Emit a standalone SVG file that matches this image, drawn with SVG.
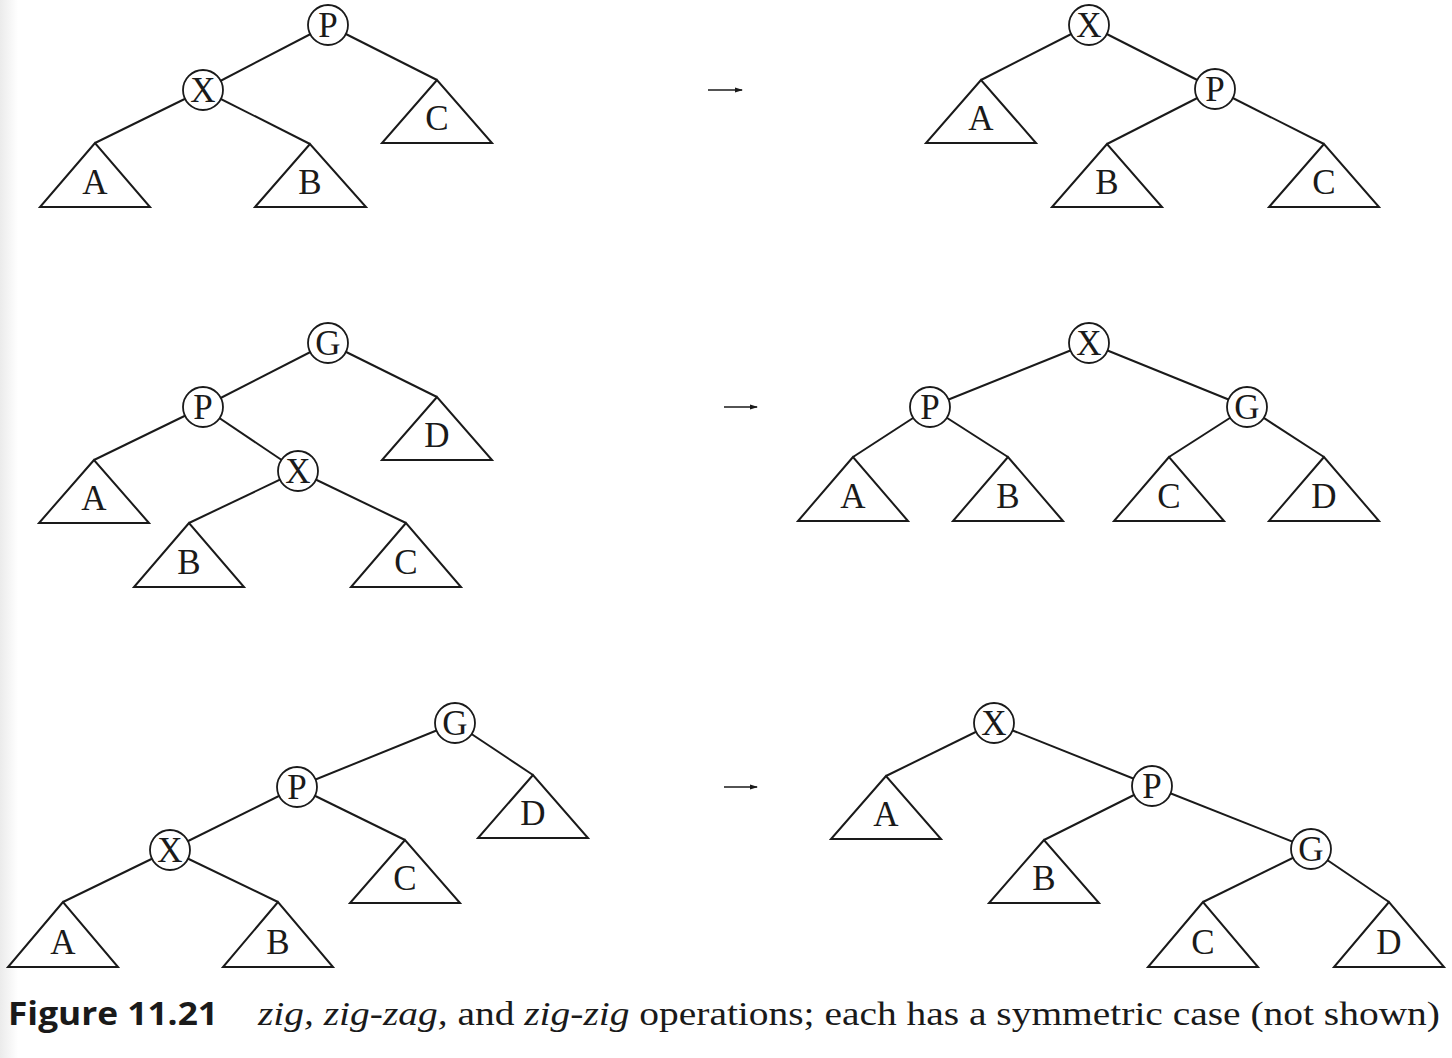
<svg xmlns="http://www.w3.org/2000/svg" width="1452" height="1058" viewBox="0 0 1452 1058">
<style>
.e{stroke:#1a1a1a;stroke-width:2;fill:none}
.n{stroke:#1a1a1a;stroke-width:1.8;fill:#fff}
.t{stroke:#1a1a1a;stroke-width:2;fill:#fff;stroke-linejoin:miter}
.l{font-family:"Liberation Serif","Times New Roman",serif;font-size:35px;fill:#1a1a1a;text-anchor:middle}
.a{stroke:#1a1a1a;stroke-width:1.6;fill:none}
.cb{font-family:"Open Sans","Liberation Sans",sans-serif;font-weight:bold;font-size:32px;fill:#1a1a1a}
.cs{font-family:"Liberation Serif","Times New Roman",serif;font-size:34px;fill:#1a1a1a}
</style>
<defs>
<linearGradient id="edge" x1="0" y1="0" x2="1" y2="0">
<stop offset="0" stop-color="#ebebeb"/>
<stop offset="1" stop-color="#ffffff"/>
</linearGradient>
<marker id="ah" markerWidth="8" markerHeight="6" refX="7" refY="3" orient="auto" markerUnits="userSpaceOnUse">
<polygon points="0,0.5 8,3 0,5.5" fill="#1a1a1a"/>
</marker>
</defs>
<rect width="1452" height="1058" fill="#fff"/>
<rect x="0" y="0" width="18" height="1058" fill="url(#edge)"/>

<g id="connectors">
<!-- tree 1 left -->
<line class="e" x1="328" y1="25" x2="203" y2="90"/>
<line class="e" x1="328" y1="25" x2="437" y2="80"/>
<line class="e" x1="203" y1="90" x2="95" y2="143"/>
<line class="e" x1="203" y1="90" x2="310" y2="144"/>
<!-- tree 1 right -->
<line class="e" x1="1089" y1="25" x2="981" y2="80"/>
<line class="e" x1="1089" y1="25" x2="1215" y2="89"/>
<line class="e" x1="1215" y1="89" x2="1107" y2="144"/>
<line class="e" x1="1215" y1="89" x2="1324" y2="144"/>
<!-- tree 2 left -->
<line class="e" x1="328" y1="343" x2="203" y2="407"/>
<line class="e" x1="328" y1="343" x2="437" y2="397"/>
<line class="e" x1="203" y1="407" x2="94" y2="460"/>
<line class="e" x1="203" y1="407" x2="298" y2="471"/>
<line class="e" x1="298" y1="471" x2="189" y2="523"/>
<line class="e" x1="298" y1="471" x2="406" y2="523"/>
<!-- tree 2 right -->
<line class="e" x1="1089" y1="343" x2="930" y2="407"/>
<line class="e" x1="1089" y1="343" x2="1247" y2="407"/>
<line class="e" x1="930" y1="407" x2="853" y2="457"/>
<line class="e" x1="930" y1="407" x2="1008" y2="457"/>
<line class="e" x1="1247" y1="407" x2="1169" y2="457"/>
<line class="e" x1="1247" y1="407" x2="1324" y2="457"/>
<!-- tree 3 left -->
<line class="e" x1="455" y1="723" x2="297" y2="787"/>
<line class="e" x1="455" y1="723" x2="533" y2="775"/>
<line class="e" x1="297" y1="787" x2="170" y2="850"/>
<line class="e" x1="297" y1="787" x2="405" y2="840"/>
<line class="e" x1="170" y1="850" x2="63" y2="902"/>
<line class="e" x1="170" y1="850" x2="278" y2="902"/>
<!-- tree 3 right -->
<line class="e" x1="994" y1="723" x2="886" y2="776"/>
<line class="e" x1="994" y1="723" x2="1152" y2="786"/>
<line class="e" x1="1152" y1="786" x2="1044" y2="840"/>
<line class="e" x1="1152" y1="786" x2="1311" y2="849"/>
<line class="e" x1="1311" y1="849" x2="1203" y2="902"/>
<line class="e" x1="1311" y1="849" x2="1389" y2="902"/>
<!-- arrows -->
<line class="a" x1="708" y1="90" x2="742" y2="90" marker-end="url(#ah)"/>
<line class="a" x1="724" y1="407" x2="757" y2="407" marker-end="url(#ah)"/>
<line class="a" x1="724" y1="787" x2="757" y2="787" marker-end="url(#ah)"/>
</g>

<!-- Row 1 left -->
<g id="r1l-P"><circle class="n" cx="328" cy="25" r="20"/><text class="l" x="328" y="37">P</text></g>
<g id="r1l-X"><circle class="n" cx="203" cy="90" r="20"/><text class="l" x="203" y="102">X</text></g>
<g id="r1l-A"><polygon class="t" points="95,143 40,207 150,207"/><text class="l" x="95" y="194">A</text></g>
<g id="r1l-B"><polygon class="t" points="310,144 255,207 366,207"/><text class="l" x="310" y="194">B</text></g>
<g id="r1l-C"><polygon class="t" points="437,80 382,143 492,143"/><text class="l" x="437" y="130">C</text></g>

<!-- Row 1 right -->
<g id="r1r-X"><circle class="n" cx="1089" cy="25" r="20"/><text class="l" x="1089" y="37">X</text></g>
<g id="r1r-P"><circle class="n" cx="1215" cy="89" r="20"/><text class="l" x="1215" y="101">P</text></g>
<g id="r1r-A"><polygon class="t" points="981,80 926,143 1036,143"/><text class="l" x="981" y="130">A</text></g>
<g id="r1r-B"><polygon class="t" points="1107,144 1052,207 1162,207"/><text class="l" x="1107" y="194">B</text></g>
<g id="r1r-C"><polygon class="t" points="1324,144 1269,207 1379,207"/><text class="l" x="1324" y="194">C</text></g>

<!-- Row 2 left -->
<g id="r2l-G"><circle class="n" cx="328" cy="343" r="20"/><text class="l" x="328" y="355">G</text></g>
<g id="r2l-P"><circle class="n" cx="203" cy="407" r="20"/><text class="l" x="203" y="419">P</text></g>
<g id="r2l-X"><circle class="n" cx="298" cy="471" r="20"/><text class="l" x="298" y="483">X</text></g>
<g id="r2l-D"><polygon class="t" points="437,397 382,460 492,460"/><text class="l" x="437" y="447">D</text></g>
<g id="r2l-A"><polygon class="t" points="94,460 39,523 149,523"/><text class="l" x="94" y="510">A</text></g>
<g id="r2l-B"><polygon class="t" points="189,523 134,587 244,587"/><text class="l" x="189" y="574">B</text></g>
<g id="r2l-C"><polygon class="t" points="406,523 351,587 461,587"/><text class="l" x="406" y="574">C</text></g>

<!-- Row 2 right -->
<g id="r2r-X"><circle class="n" cx="1089" cy="343" r="20"/><text class="l" x="1089" y="355">X</text></g>
<g id="r2r-P"><circle class="n" cx="930" cy="407" r="20"/><text class="l" x="930" y="419">P</text></g>
<g id="r2r-G"><circle class="n" cx="1247" cy="407" r="20"/><text class="l" x="1247" y="419">G</text></g>
<g id="r2r-A"><polygon class="t" points="853,457 798,521 908,521"/><text class="l" x="853" y="508">A</text></g>
<g id="r2r-B"><polygon class="t" points="1008,457 953,521 1063,521"/><text class="l" x="1008" y="508">B</text></g>
<g id="r2r-C"><polygon class="t" points="1169,457 1114,521 1224,521"/><text class="l" x="1169" y="508">C</text></g>
<g id="r2r-D"><polygon class="t" points="1324,457 1269,521 1379,521"/><text class="l" x="1324" y="508">D</text></g>

<!-- Row 3 left -->
<g id="r3l-G"><circle class="n" cx="455" cy="723" r="20"/><text class="l" x="455" y="735">G</text></g>
<g id="r3l-P"><circle class="n" cx="297" cy="787" r="20"/><text class="l" x="297" y="799">P</text></g>
<g id="r3l-X"><circle class="n" cx="170" cy="850" r="20"/><text class="l" x="170" y="862">X</text></g>
<g id="r3l-D"><polygon class="t" points="533,775 478,838 588,838"/><text class="l" x="533" y="825">D</text></g>
<g id="r3l-C"><polygon class="t" points="405,840 350,903 460,903"/><text class="l" x="405" y="890">C</text></g>
<g id="r3l-A"><polygon class="t" points="63,902 8,967 118,967"/><text class="l" x="63" y="954">A</text></g>
<g id="r3l-B"><polygon class="t" points="278,902 223,967 333,967"/><text class="l" x="278" y="954">B</text></g>

<!-- Row 3 right -->
<g id="r3r-X"><circle class="n" cx="994" cy="723" r="20"/><text class="l" x="994" y="735">X</text></g>
<g id="r3r-P"><circle class="n" cx="1152" cy="786" r="20"/><text class="l" x="1152" y="798">P</text></g>
<g id="r3r-G"><circle class="n" cx="1311" cy="849" r="20"/><text class="l" x="1311" y="861">G</text></g>
<g id="r3r-A"><polygon class="t" points="886,776 831,839 941,839"/><text class="l" x="886" y="826">A</text></g>
<g id="r3r-B"><polygon class="t" points="1044,840 989,903 1099,903"/><text class="l" x="1044" y="890">B</text></g>
<g id="r3r-C"><polygon class="t" points="1203,902 1148,967 1258,967"/><text class="l" x="1203" y="954">C</text></g>
<g id="r3r-D"><polygon class="t" points="1389,902 1334,967 1444,967"/><text class="l" x="1389" y="954">D</text></g>

<g id="caption">
<text class="cb" x="8" y="1025" textLength="210" lengthAdjust="spacingAndGlyphs">Figure 11.21</text>
<text class="cs" x="258" y="1025" textLength="1182" lengthAdjust="spacingAndGlyphs"><tspan font-style="italic">zig,</tspan> <tspan font-style="italic">zig-zag,</tspan> and <tspan font-style="italic">zig-zig</tspan> operations; each has a symmetric case (not shown)</text>
</g>
</svg>
